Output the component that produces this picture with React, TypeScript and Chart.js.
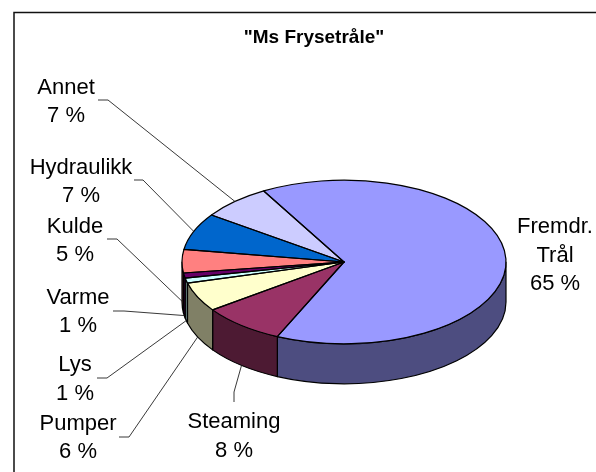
import React, { useEffect, useRef } from "react";
import { Chart, registerables } from "chart.js";

Chart.register(...registerables);

const titleText = '"Ms Frysetråle"';
const categories = ["Fremdr. Trål", "Steaming", "Pumper", "Lys", "Varme", "Kulde", "Hydraulikk", "Annet"];
const values = [65.0, 8.3, 5.8, 1.0, 1.0, 4.6, 7.3, 7.0];
const topColors = ["#9999FF", "#993366", "#FFFFCC", "#CCFFFF", "#660066", "#FF8080", "#0066CC", "#CCCCFF"];
const sideColors = ["#4D4D80", "#4D1A33", "#808066", "#668080", "#330033", "#804040", "#003366", "#666680"];

// Label layout: centre x, first-line centre y, and the elbow of the leader line
const labelLayout: any[] = [
  { lines: ["Fremdr.", "Trål"], x: 555, y: 227, gap: 28.5 },
  { lines: ["Steaming"], x: 234, y: 421.5, gap: 29, leader: [[234, 402], [234, 392]] },
  { lines: ["Pumper"], x: 78, y: 424, gap: 28, leader: [[119, 437], [129, 437]] },
  { lines: ["Lys"], x: 75, y: 365, gap: 29, leader: [[97, 378], [107, 378]] },
  { lines: ["Varme"], x: 78, y: 298, gap: 28, leader: [[113, 311], [124, 311]] },
  { lines: ["Kulde"], x: 75, y: 227, gap: 28, leader: [[107, 239], [117, 239]] },
  { lines: ["Hydraulikk"], x: 81, y: 168, gap: 28, leader: [[134, 180], [143, 180]] },
  { lines: ["Annet"], x: 66, y: 88, gap: 28, leader: [[98, 100], [108, 100]] },
];

const SQUASH = 0.505;
const DEPTH = 40;
const TAU = Math.PI * 2;

function visibleSpans(s: number, e: number) {
  const out: number[][] = [];
  for (let k = -2; k <= 2; k++) {
    const a = Math.max(s + k * TAU, 0);
    const b = Math.min(e + k * TAU, Math.PI);
    if (b > a) out.push([a, b]);
  }
  return out;
}

const pie3d = {
  id: "pie3d",
  afterLayout(chart: any) {
    const t = chart.titleBlock;
    if (t) {
      t.left = 32;
      t.right = 596;
    }
  },
  beforeDatasetsDraw(chart: any) {
    const { ctx } = chart;
    const arcs = chart.getDatasetMeta(0).data;
    const { x: cx, y: cy, outerRadius: R } = arcs[0];
    const Ry = R * SQUASH;
    ctx.save();
    ctx.lineWidth = 1.2;
    ctx.strokeStyle = "#000";
    ctx.lineJoin = "round";
    arcs.forEach((arc: any, i: number) => {
      for (const [a, b] of visibleSpans(arc.startAngle, arc.endAngle)) {
        ctx.beginPath();
        ctx.ellipse(cx, cy, R, Ry, 0, a, b);
        ctx.ellipse(cx, cy + DEPTH, R, Ry, 0, b, a, true);
        ctx.closePath();
        ctx.fillStyle = sideColors[i];
        ctx.fill();
        ctx.stroke();
      }
    });
    ctx.restore();
    ctx.save();
    ctx.translate(0, cy);
    ctx.scale(1, SQUASH);
    ctx.translate(0, -cy);
  },
  afterDatasetsDraw(chart: any) {
    const { ctx } = chart;
    ctx.restore();
    const arcs = chart.getDatasetMeta(0).data;
    const { x: cx, y: cy, outerRadius: R } = arcs[0];
    const Ry = R * SQUASH;
    ctx.save();
    ctx.strokeStyle = "#000";
    ctx.lineWidth = 1.2;
    ctx.lineJoin = "round";
    arcs.forEach((arc: any) => {
      ctx.beginPath();
      ctx.moveTo(cx, cy);
      ctx.ellipse(cx, cy, R, Ry, 0, arc.startAngle, arc.endAngle);
      ctx.closePath();
      ctx.stroke();
    });
    ctx.restore();

    // leader lines and labels
    const total = values.reduce((p, v) => p + v, 0);
    ctx.save();
    ctx.textAlign = "center";
    ctx.textBaseline = "middle";
    ctx.font = '22px "Liberation Sans"';
    ctx.fillStyle = "#000";
    labelLayout.forEach((lab, i) => {
      const arc = arcs[i];
      const mid = (arc.startAngle + arc.endAngle) / 2;
      if (lab.leader) {
        const ax = cx + R * Math.cos(mid);
        const ay = cy + Ry * Math.sin(mid) + (Math.sin(mid) > -0.1 ? DEPTH : 0);
        ctx.beginPath();
        ctx.strokeStyle = "#222";
        ctx.lineWidth = 0.9;
        lab.leader.forEach((p: number[], k: number) => (k ? ctx.lineTo(p[0], p[1]) : ctx.moveTo(p[0], p[1])));
        ctx.lineTo(ax, ay);
        ctx.stroke();
      }
      const pct = Math.round((values[i] / total) * 100) + " %";
      [...lab.lines, pct].forEach((t: string, k: number) => ctx.fillText(t, lab.x, lab.y + k * lab.gap));
    });
    ctx.restore();
  },
  afterDraw(chart: any) {
    const { ctx } = chart;
    ctx.save();
    ctx.strokeStyle = "#111";
    ctx.lineWidth = 1.5;
    ctx.beginPath();
    ctx.moveTo(14, 472);
    ctx.lineTo(14, 12.5);
    ctx.lineTo(596, 12.5);
    ctx.stroke();
    ctx.restore();
  },
};

export default function App() {
  const ref = useRef<HTMLCanvasElement | null>(null);
  useEffect(() => {
    const chart = new Chart(ref.current as HTMLCanvasElement, {
      type: "pie",
      data: {
        labels: categories,
        datasets: [
          {
            data: values,
            backgroundColor: topColors,
            borderWidth: 0,
            hoverOffset: 0,
            clip: false,
          } as any,
        ],
      },
      options: {
        responsive: false,
        animation: false,
        rotation: -29.7,
        layout: { padding: { left: 182, right: 90, top: 0, bottom: 48 } },
        plugins: {
          legend: { display: false },
          tooltip: { enabled: false },
          title: {
            display: true,
            text: titleText,
            color: "#000",
            font: { family: '"Liberation Sans"', size: 19, weight: "bold" },
            padding: { top: 26, bottom: 51.2 },
          },
        },
      },
      plugins: [pie3d as any],
    });
    return () => chart.destroy();
  }, []);
  return (
    <div style={{ position: "absolute", left: 0, top: 0, width: 596, height: 472, background: "#fff" }}>
      <canvas ref={ref} width={596} height={472} style={{ display: "block" }} />
    </div>
  );
}
